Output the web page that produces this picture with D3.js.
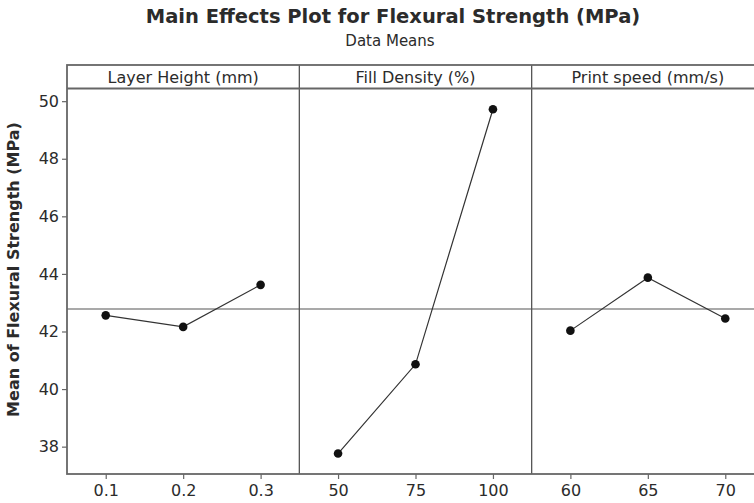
<!DOCTYPE html>
<html>
<head>
<meta charset="utf-8">
<script src="https://cdn.jsdelivr.net/npm/d3@7"></script>
<style>
  html, body { margin: 0; padding: 0; background: #fff; overflow: hidden; }
  svg { display: block; }
  text { font-family: "DejaVu Sans", Verdana, sans-serif; fill: #2b2b2b; }
</style>
</head>
<body>
<svg id="chart" width="754" height="503"></svg>
<script>
// ---- data ----
const factorNames = ["Layer Height (mm)", "Fill Density (%)", "Print speed (mm/s)"];
const layerLevels = ["0.1", "0.2", "0.3"];
const layerMeans  = [42.56, 42.16, 43.62];
const fillLevels  = ["50", "75", "100"];
const fillMeans   = [37.76, 40.86, 49.72];
const speedLevels = ["60", "65", "70"];
const speedMeans  = [42.03, 43.87, 42.45];
const yTickValues = [38, 40, 42, 44, 46, 48, 50];
const yDomain = [37.05, 50.44];
const titleText = "Main Effects Plot for Flexural Strength (MPa)";
const subtitleText = "Data Means";
const yLabelText = "Mean of Flexural Strength (MPa)";

const panels = [
  { name: factorNames[0], levels: layerLevels, means: layerMeans },
  { name: factorNames[1], levels: fillLevels,  means: fillMeans },
  { name: factorNames[2], levels: speedLevels, means: speedMeans }
];
const allMeans = layerMeans.concat(fillMeans, speedMeans);
const grandMean = d3.mean(allMeans);

// ---- layout ----
const svg = d3.select("#chart");
const frameL = 67, frameR = 764, frameT = 65, frameB = 474, stripH = 23.5;
const plotT = frameT + stripH;
const panelScale = d3.scaleBand().domain(panels.map(p => p.name)).range([frameL, frameR]).padding(0);
const y = d3.scaleLinear().domain(yDomain).range([frameB, plotT]);
const FONT = '"DejaVu Sans", Verdana, sans-serif';

// title
svg.append("text").attr("x", 393).attr("y", 23).attr("text-anchor", "middle")
  .style("font-size", "19.5px").style("font-weight", "bold").text(titleText);
svg.append("text").attr("x", 390).attr("y", 46).attr("text-anchor", "middle")
  .style("font-size", "15px").text(subtitleText);

// y axis
const yAxis = d3.axisLeft(y).tickValues(yTickValues).tickSize(5).tickPadding(3).tickFormat(d3.format("d"));
const gy = svg.append("g").attr("transform", `translate(${frameL},0)`).call(yAxis);
gy.select(".domain").remove();
gy.selectAll(".tick line").attr("stroke", "#666").attr("stroke-width", 1.2);
gy.selectAll(".tick text").style("font-size", "16px").style("font-family", FONT).attr("fill", "#2b2b2b");

// y label
svg.append("text")
  .attr("transform", `translate(19,${(frameT + frameB) / 2}) rotate(-90)`)
  .attr("text-anchor", "middle")
  .style("font-size", "16px").style("font-weight", "bold").text(yLabelText);

// panels
panels.forEach(p => {
  const x0 = panelScale(p.name), w = panelScale.bandwidth();
  const x = d3.scalePoint().domain(p.levels).range([x0, x0 + w]).padding(0.5);
  const g = svg.append("g");

  // x axis
  const xAxis = d3.axisBottom(x).tickSize(5).tickPadding(6);
  const gx = g.append("g").attr("transform", `translate(0,${frameB})`).call(xAxis);
  gx.select(".domain").remove();
  gx.selectAll(".tick line").attr("stroke", "#666").attr("stroke-width", 1.2);
  gx.selectAll(".tick text").style("font-size", "16px").style("font-family", FONT).attr("fill", "#2b2b2b");

  // reference line
  g.append("line").attr("x1", x0).attr("x2", x0 + w)
    .attr("y1", y(grandMean)).attr("y2", y(grandMean))
    .attr("stroke", "#555").attr("stroke-width", 1.2);

  // data line
  const line = d3.line().x((d, i) => x(p.levels[i])).y(d => y(d));
  g.append("path").datum(p.means).attr("d", line)
    .attr("fill", "none").attr("stroke", "#333").attr("stroke-width", 1.2);

  g.selectAll("circle").data(p.means).join("circle")
    .attr("cx", (d, i) => x(p.levels[i])).attr("cy", d => y(d)).attr("r", 4.3)
    .attr("fill", "#111");

  // strip label
  g.append("text").attr("x", x0 + w / 2).attr("y", frameT + stripH / 2 + 6)
    .attr("text-anchor", "middle").style("font-size", "16px").text(p.name);

  // divider
  g.append("line").attr("x1", x0 + w).attr("x2", x0 + w).attr("y1", frameT).attr("y2", frameB)
    .attr("stroke", "#555").attr("stroke-width", 1.3);
});

// frame & strip line
svg.append("rect").attr("x", frameL).attr("y", frameT).attr("width", frameR - frameL).attr("height", frameB - frameT)
  .attr("fill", "none").attr("stroke", "#666").attr("stroke-width", 1.8);
svg.append("line").attr("x1", frameL).attr("x2", frameR).attr("y1", plotT).attr("y2", plotT)
  .attr("stroke", "#666").attr("stroke-width", 1.8);
</script>
</body>
</html>
